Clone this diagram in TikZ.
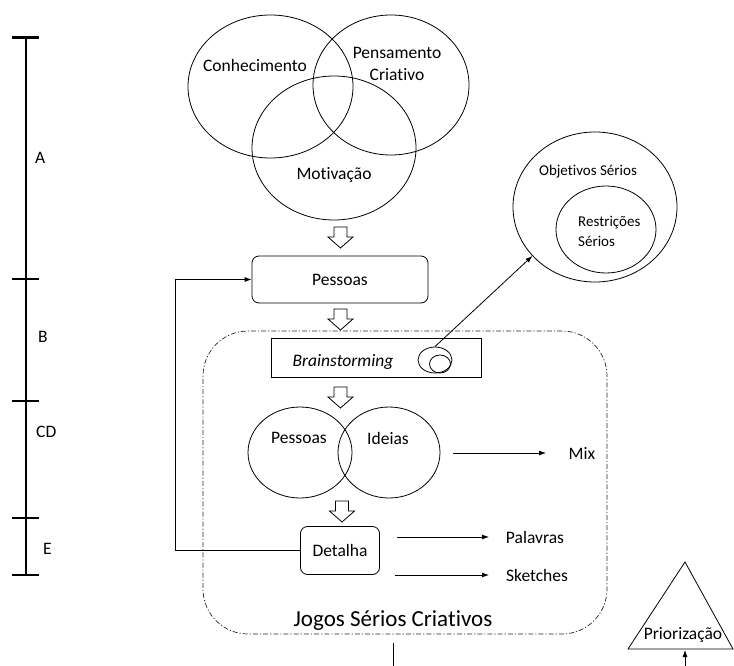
\documentclass[tikz,border=0pt]{standalone}
\usepackage{fontspec}
\setmainfont[Ligatures=NoCommon]{Carlito}
\usetikzlibrary{shapes.geometric,arrows.meta}
\begin{document}
\begin{tikzpicture}[x=1pt,y=-1pt,
  venn/.style={draw, ellipse, line width=0.8pt, inner sep=0pt},
  lbl/.style={font=\fontsize{17.5}{20}\selectfont, inner sep=0pt},
  smalllbl/.style={font=\fontsize{15}{17}\selectfont, inner sep=0pt},
  biglbl/.style={font=\fontsize{23}{26}\selectfont, inner sep=0pt},
  rbox/.style={draw, rounded corners=7pt, line width=0.8pt, inner sep=0pt},
  arr/.style={-{Latex[length=7pt,width=5pt]}, line width=0.8pt},
  thinline/.style={line width=0.8pt},
  tick/.style={line width=2.4pt},
  dashdotline/.style={draw, line width=0.7pt, black!85, dash pattern=on 5pt off 2pt on 1.2pt off 2pt},
  hollowarrow/.pic={\draw[line width=0.8pt] (-6.5,0) -- (6.5,0) -- (6.5,10) -- (12.5,10) -- (0,21) -- (-12.5,10) -- (-6.5,10) -- cycle;}
  ]
\useasboundingbox (0,0) rectangle (734,666);

% scale bar
\draw[line width=1.2pt] (26,37.5) -- (26,575);
\foreach \yy in {37.5,279,401,518,575} \draw[tick] (12,\yy) -- (39,\yy);
\node[lbl, anchor=west] (la) at (35,158) {A};
\node[lbl, anchor=west] (lb) at (38,337) {B};
\node[lbl, anchor=west] (lcd) at (36,432) {CD};
\node[lbl, anchor=west] (le) at (43,549) {E};

% top venn
\node[venn, minimum width=165, minimum height=143] (conh) at (270.5,86.5) {};
\node[venn, minimum width=156, minimum height=140] (pens) at (391,85) {};
\node[venn, minimum width=164, minimum height=144] (motiv) at (334,148) {};
\node[lbl] (tconh) at (255,65) {Conhecimento};
\node[lbl] (tpens) at (397,53) {Pensamento};
\node[lbl] (tcria) at (397,75) {Criativo};
\node[lbl] (tmotiv) at (334,175) {Motivação};

\pic at (340.5,227) {hollowarrow};

% Pessoas box
\node[rbox, minimum width=176, minimum height=47, lbl] (pess) at (340,279.5) {Pessoas};

\pic at (340.5,309) {hollowarrow};

% Jogos dashed container
\node[dashdotline, rounded corners=45pt, minimum width=404, minimum height=303] (jogos) at (405,482.5) {};
\node[biglbl] (tjogos) at (393,621) {Jogos Sérios Criativos};

% Brainstorming
\node[draw, thinline, minimum width=210, minimum height=39, inner sep=0pt] (brain) at (376,358) {};
\node[lbl, font=\fontsize{17.5}{20}\selectfont\itshape] (tbrain) at (343,362) {Brainstorming};
\node[venn, minimum width=34, minimum height=26] (bsmall) at (435,360) {};
\node[venn, minimum width=21, minimum height=18] (bsmall2) at (440,364) {};

% Objetivos
\node[venn, minimum width=164, minimum height=150] (obj) at (595,207) {};
\node[venn, minimum width=100, minimum height=87] (restr) at (606,229.5) {};
\node[smalllbl] (tobj) at (588,172) {Objetivos Sérios};
\node[smalllbl, anchor=west] (trestr) at (578,223) {Restrições};
\node[smalllbl, anchor=west] (tserios) at (578,241) {Sérios};
\draw[arr] (bsmall.north) -- (obj.218);

\pic at (340.5,387) {hollowarrow};

% Pessoas / Ideias
\node[venn, minimum width=104, minimum height=91] (cpess) at (300,452.5) {};
\node[venn, minimum width=102, minimum height=91] (cide) at (389,452.5) {};
\node[lbl] (tcpess) at (299,438) {Pessoas};
\node[lbl] (tcide) at (388,438) {Ideias};
\node[lbl] (mix) at (582,453) {Mix};
\coordinate (m1) at (453,453);
\coordinate (m2) at (546,453);
\draw[arr] (m1) -- (m2);

\pic at (342,501) {hollowarrow};

% Detalha
\node[rbox, minimum width=79, minimum height=48, lbl] (det) at (340,550.5) {Detalha};
\node[lbl] (pal) at (535,537) {Palavras};
\node[lbl] (ske) at (537,575) {Sketches};
\coordinate (p1) at (397,537);
\coordinate (p2) at (489,537);
\coordinate (s1) at (395,575);
\coordinate (s2) at (489,575);
\draw[arr] (p1) -- (p2);
\draw[arr] (s1) -- (s2);

% feedback loop
\draw[arr] (det.west) -- ++(-125,0) |- (pess.west);

% bottom line
\coordinate (v1) at (393,643);
\coordinate (v2) at (393,666);
\draw[thinline] (v1) -- (v2);

% Priorizacao
\coordinate (ta) at (685,562);
\coordinate (tb) at (628,649);
\coordinate (tc) at (733,649);
\draw[thinline] (ta) -- (tb) -- (tc) -- cycle;
\node[lbl] (prio) at (683,635) {Priorização};
\coordinate (pa) at (685,666);
\coordinate (pb) at (685,650);
\draw[arr] (pa) -- (pb);
\end{tikzpicture}
\end{document}
